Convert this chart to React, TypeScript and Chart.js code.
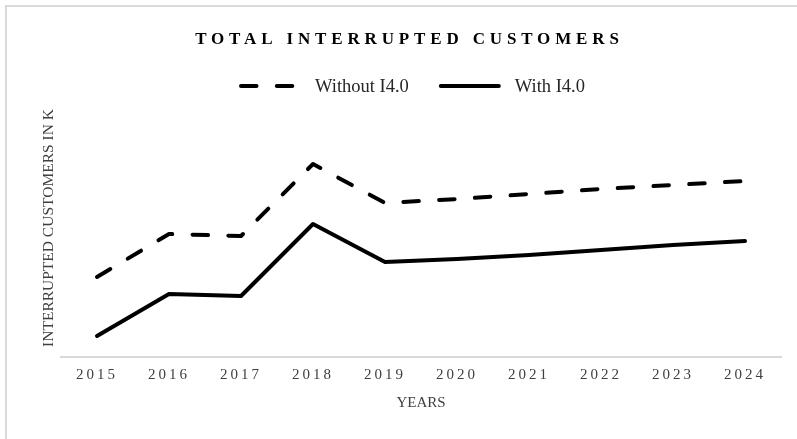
import React, { useEffect, useRef } from "react";
import { Chart, registerables } from "chart.js";

Chart.register(...registerables);

const years = ["2015", "2016", "2017", "2018", "2019", "2020", "2021", "2022", "2023", "2024"];
const withoutI40 = [80, 123, 121, 193, 154, 158, 163, 168, 172, 176];
const withI40 = [21, 63, 61, 133, 95, 98, 102, 107, 112, 116];
const yMin = 0;
const yMax = 258;

const titleText = "TOTAL INTERRUPTED CUSTOMERS";
const yTitle = "INTERRUPTED CUSTOMERS IN K";
const xTitle = "YEARS";
const seriesNames = ["Without I4.0", "With I4.0"];

const SERIF = '"Liberation Serif", "Times New Roman", serif';

const spacedTicksPlugin = {
  id: "spacedTicks",
  beforeDraw(chart: any) {
    const s = chart.scales.x;
    if (s && !s.__spaced) {
      const orig = s.drawLabels.bind(s);
      s.drawLabels = (area: any) => {
        const ctx = chart.ctx;
        ctx.save();
        (ctx as any).letterSpacing = "3px";
        orig(area);
        ctx.restore();
      };
      s.__spaced = true;
    }
  },
};

const titlePlugin = {
  id: "spacedTitle",
  afterDraw(chart: any) {
    const ctx = chart.ctx;
    ctx.save();
    ctx.font = `bold 17px ${SERIF}`;
    const ls = 4.85;
    (ctx as any).letterSpacing = ls + "px";
    ctx.fillStyle = "#000";
    ctx.textAlign = "left";
    ctx.textBaseline = "alphabetic";
    const w = ctx.measureText(titleText).width - ls;
    ctx.fillText(titleText, 407 - w / 2, 44);
    ctx.restore();
  },
};

const legendPlugin = {
  id: "lineLegend",
  afterDraw(chart: any) {
    const ctx = chart.ctx;
    ctx.save();
    ctx.font = `18.5px ${SERIF}`;
    const sample = 62;
    const gap = 14;
    const itemGap = 30;
    const ds = chart.data.datasets;
    const widths = ds.map((d: any) => sample + gap + ctx.measureText(d.label).width);
    const total = widths.reduce((a: number, b: number) => a + b, 0) + itemGap * (ds.length - 1);
    let x = 412 - total / 2;
    const y = 86;
    ds.forEach((d: any, i: number) => {
      ctx.save();
      ctx.strokeStyle = d.borderColor;
      ctx.lineWidth = d.borderWidth;
      ctx.lineCap = "round";
      ctx.setLineDash(d.borderDash || []);
      ctx.beginPath();
      ctx.moveTo(x + 2, y);
      ctx.lineTo(x + sample - 2, y);
      ctx.stroke();
      ctx.restore();
      ctx.fillStyle = "#262626";
      ctx.textAlign = "left";
      ctx.textBaseline = "middle";
      ctx.fillText(d.label, x + sample + gap, y + 1);
      x += widths[i] + itemGap;
    });
    ctx.restore();
  },
};

export default function App() {
  const ref = useRef<HTMLCanvasElement>(null);
  useEffect(() => {
    document.body.style.margin = "0";
    const chart = new Chart(ref.current!, {
      type: "line",
      data: {
        labels: years,
        datasets: [
          {
            label: seriesNames[0],
            data: withoutI40,
            borderColor: "#000",
            backgroundColor: "#000",
            borderWidth: 4,
            borderDash: [15.5, 20.3],
            borderCapStyle: "round",
            borderJoinStyle: "round",
            pointRadius: 0,
            tension: 0,
          },
          {
            label: seriesNames[1],
            data: withI40,
            borderColor: "#000",
            backgroundColor: "#000",
            borderWidth: 4,
            borderCapStyle: "round",
            borderJoinStyle: "round",
            pointRadius: 0,
            tension: 0,
          },
        ],
      },
      options: {
        responsive: false,
        animation: false,
        devicePixelRatio: 1,
        layout: { padding: { top: 99, left: 0, right: 16, bottom: 0 } },
        plugins: {
          legend: { display: false },
          title: { display: false },
          tooltip: { enabled: false },
        },
        scales: {
          x: {
            offset: true,
            grid: { display: false, drawTicks: false },
            border: { display: true, color: "#d9d9d9", width: 2 },
            ticks: {
              color: "#404040",
              font: { family: SERIF, size: 15 },
              padding: 9,
              maxRotation: 0,
              autoSkip: false,
            },
            title: {
              display: true,
              text: xTitle,
              color: "#404040",
              font: { family: SERIF, size: 15 },
              padding: { top: 0, bottom: 27 },
            },
            afterFit: (s: any) => {
              s.height = 82;
            },
          },
          y: {
            min: yMin,
            max: yMax,
            grid: { display: false, drawTicks: false },
            border: { display: false },
            ticks: { display: false },
            title: {
              display: true,
              text: yTitle,
              color: "#404040",
              font: { family: SERIF, size: 15.5 },
              padding: { top: 39.7, bottom: 0 },
            },
            afterFit: (s: any) => {
              s.width = 61;
            },
          },
        },
      },
      plugins: [spacedTicksPlugin, titlePlugin, legendPlugin],
    });
    return () => chart.destroy();
  }, []);
  return (
    <div style={{ position: "relative", width: 797, height: 439, overflow: "hidden", background: "#fff" }}>
      <canvas ref={ref} width={797} height={439} style={{ display: "block", width: 797, height: 439 }} />
      <div
        style={{
          position: "absolute",
          left: 5,
          top: 5,
          width: 1200,
          height: 1200,
          border: "2px solid #d9d9d9",
          pointerEvents: "none",
        }}
      />
    </div>
  );
}
